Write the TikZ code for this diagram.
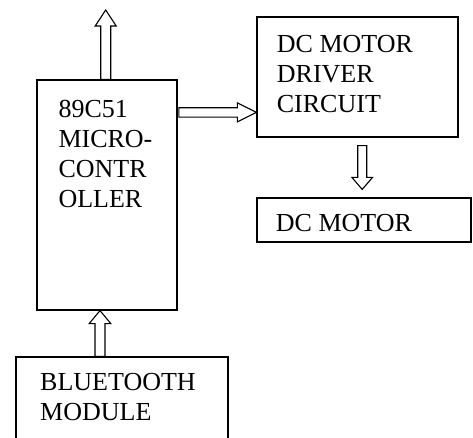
\documentclass[tikz,border=0pt]{standalone}
\usepackage{fontspec}
\setmainfont{Liberation Serif}
\usetikzlibrary{calc}
\tikzset{
  box/.style={draw, line width=1.2pt, inner sep=0pt, rectangle},
  lbl/.style={anchor=base west, align=left, inner sep=0pt,
    font=\fontsize{26}{30}\selectfont},
  barr/.style={draw, line width=1.1pt, fill=white, line join=miter},
}
\newcommand{\blockarr}[5]{%
  \coordinate (ba-h) at ($(#2)!#5!(#1)$);
  \draw[barr] ($(#1)!#3!90:(#2)$) -- ($(ba-h)!#3!90:(#2)$) -- ($(ba-h)!#4!90:(#2)$)
    -- (#2) -- ($(ba-h)!#4!-90:(#2)$) -- ($(ba-h)!#3!-90:(#2)$) -- ($(#1)!#3!-90:(#2)$) -- cycle;}
\begin{document}
\begin{tikzpicture}[x=1pt,y=-1pt]
\clip (0,0) rectangle (473,437);
\fill[white] (0,0) rectangle (473,437);
% boxes
\node[box, minimum width=140pt, minimum height=230pt] (micro) at (107,195) {};
\node[box, minimum width=201pt, minimum height=120pt] (driver) at (357.5,77) {};
\node[box, minimum width=214pt, minimum height=44pt] (dcm) at (364,220) {};
\node[box, minimum width=212pt, minimum height=86pt] (bt) at (122,400) {};
% labels (anchored at the baseline of their last line)
\node[lbl] (microtxt) at (58.3,207.5) {89C51\\MICRO-\\CONTR\\OLLER};
\node[lbl] (drivertxt) at (276.7,112.5) {DC MOTOR\\DRIVER\\CIRCUIT};
\node[lbl] (dcmtxt) at (275.7,231) {DC MOTOR};
\node[lbl] (bttxt) at (40,420) {BLUETOOTH\\MODULE};
% connector end points
\coordinate (upS) at ([xshift=-1.3pt]micro.north);
\coordinate (upE) at (105.7,10);
\coordinate (rS) at ($(micro.north east)+(1.3,33)$);
\coordinate (rE) at (rS -| driver.west);
\coordinate (dS) at ($(driver.south)+(4.7,8)$);
\coordinate (dE) at ([yshift=8pt]dS |- dcm.north);
\coordinate (bS) at ([xshift=-22pt]bt.north);
\coordinate (bE) at (bS |- micro.south);
% block arrows
\blockarr{upS}{upE}{5pt}{10.5pt}{16pt}
\blockarr{rS}{rE}{4.7pt}{9.5pt}{19pt}
\blockarr{dS}{dE}{4.5pt}{10.3pt}{12pt}
\blockarr{bS}{bE}{5pt}{10.8pt}{13pt}
\end{tikzpicture}
\end{document}
